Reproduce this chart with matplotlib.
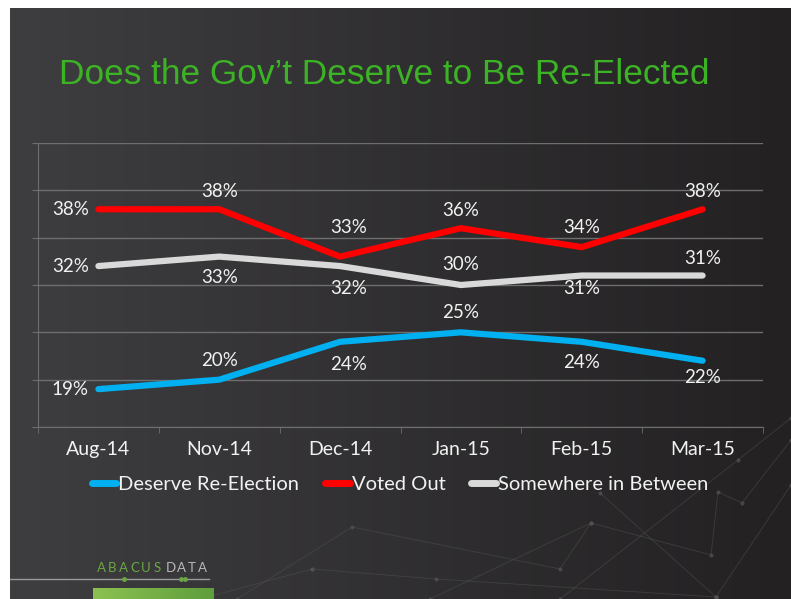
import numpy as np
import matplotlib.pyplot as plt
from matplotlib.lines import Line2D
from matplotlib.colors import LinearSegmentedColormap

months = ['Aug-14', 'Nov-14', 'Dec-14', 'Jan-15', 'Feb-15', 'Mar-15']
deserve = [19, 20, 24, 25, 24, 22]
voted_out = [38, 38, 33, 36, 34, 38]
in_between = [32, 33, 32, 30, 31, 31]
names = ['Deserve Re-Election', 'Voted Out', 'Somewhere in Between']
colors = ['#00b0f0', '#ff0000', '#d9d9d9']

# label offsets in points (None = label to the left of the point)
off_deserve = [None, (0, 14), (6, -16), (0, 14), (0, -15), (0, -12)]
off_voted = [None, (0, 13), (6, 21), (0, 13), (0, 14), (0, 13)]
off_between = [None, (0, -15), (6, -16), (0, 15), (0, -9), (0, 12)]

W, H = 791, 599
fig = plt.figure(figsize=(W / 100, H / 100), dpi=100, facecolor='white')

# dark gradient slide background
bg = fig.add_axes([10 / W, 0, 1 - 10 / W, 1 - 8 / H])
bgcmap = LinearSegmentedColormap.from_list('bg', ['#3e3d40', '#232122'])
bg.imshow(np.linspace(0, 1, 256)[None, :], cmap=bgcmap, aspect='auto',
          extent=[10, W, H, 8])
bg.set_xlim(10, W)
bg.set_ylim(H, 8)
bg.axis('off')

# faint decorative network in the lower right
segs = [[(237, 599), (352, 527), (560, 569), (591, 523), (711, 555),
         (718, 492), (742, 503), (791, 440)],
        [(312, 569), (436, 579), (716, 597)],
        [(200, 599), (312, 569)],
        [(560, 599), (738, 460), (791, 418)],
        [(600, 493), (716, 597)],
        [(716, 597), (791, 485)],
        [(430, 599), (591, 523)]]
for s in segs:
    xs, ys = zip(*s)
    bg.plot(xs, ys, color='#555555', lw=0.7, alpha=0.45)
    bg.plot(xs, ys, 'o', color='#555555', ms=2, alpha=0.6)

# ABACUS DATA logo
bg.plot([10, 209], [579, 579], color='#9a9a9a', lw=1)
bg.plot([124, 181, 185], [579, 579, 579], 'o', color='#6aa843', ms=2.5)
green = LinearSegmentedColormap.from_list('g', ['#8cc152', '#5f9e3c'])
bg.imshow(np.linspace(0, 1, 64)[None, :], cmap=green, aspect='auto',
          extent=[93, 214, 599, 588], zorder=2)
bg.set_xlim(10, W)
bg.set_ylim(H, 8)
for i, ch in enumerate('ABACUS'):
    bg.text(101 + i * 11.2, 568, ch, color='#6aa843', fontsize=9.5,
            ha='center', va='center', family='Lato')
for i, ch in enumerate('DATA'):
    bg.text(171 + i * 10.5, 568, ch, color='#b8b8b8', fontsize=9.5,
            ha='center', va='center', family='Lato')

# title
fig.text(59 / W, 1 - 84 / H, 'Does the Gov\u2019t Deserve to Be Re-Elected',
         color='#3bb324', fontsize=25.4, family='Liberation Sans',
         ha='left', va='baseline')

# chart
ax = fig.add_axes([38 / W, 1 - 427 / H, (763 - 38) / W, (427 - 143) / H])
ax.set_facecolor('none')
x = np.arange(len(months))
series = [(deserve, off_deserve), (voted_out, off_voted), (in_between, off_between)]
for (vals, offs), c in zip(series, colors):
    ax.plot(x, vals, color=c, lw=4.5, solid_capstyle='round', zorder=3)
    for xi, v, o in zip(x, vals, offs):
        if o is None:
            ax.annotate(f'{v}%', (xi, v), xytext=(-7, 0), textcoords='offset points',
                        ha='right', va='center', color='#f2f2f2', fontsize=13.5,
                        family='Lato')
        else:
            ax.annotate(f'{v}%', (xi, v), xytext=o, textcoords='offset points',
                        ha='center', va='center', color='#f2f2f2', fontsize=13.5,
                        family='Lato')

ax.set_xlim(-0.5, len(months) - 0.5)
ax.set_ylim(15, 45)
ax.set_yticks(range(15, 50, 5))
ax.yaxis.grid(True, color='#6e6e6e', lw=1)
ax.set_axisbelow(True)
ax.tick_params(axis='y', length=4.3, color='#6e6e6e', labelleft=False)
ax.set_xticks(x, months)
ax.set_xticks(np.arange(-0.5, len(months)), minor=True)
ax.tick_params(axis='x', which='major', length=0, pad=10, labelsize=14,
               labelcolor='#f2f2f2')
ax.tick_params(axis='x', which='minor', length=4.3, color='#6e6e6e')
for lab in ax.get_xticklabels():
    lab.set_family('Lato')
for side in ['top', 'right']:
    ax.spines[side].set_visible(False)
for side in ['left', 'bottom']:
    ax.spines[side].set_color('#6e6e6e')

handles = [Line2D([], [], color=c, lw=5, solid_capstyle='round') for c in colors]
fig.legend(handles, names, loc='center', bbox_to_anchor=(400 / W, 1 - 484 / H),
           ncol=3, frameon=False, handlelength=1.2, handletextpad=0.1,
           columnspacing=1.3, labelcolor='#f2f2f2',
           prop={'family': 'Lato', 'size': 14.5})

fig.savefig('out.png', dpi=100)
